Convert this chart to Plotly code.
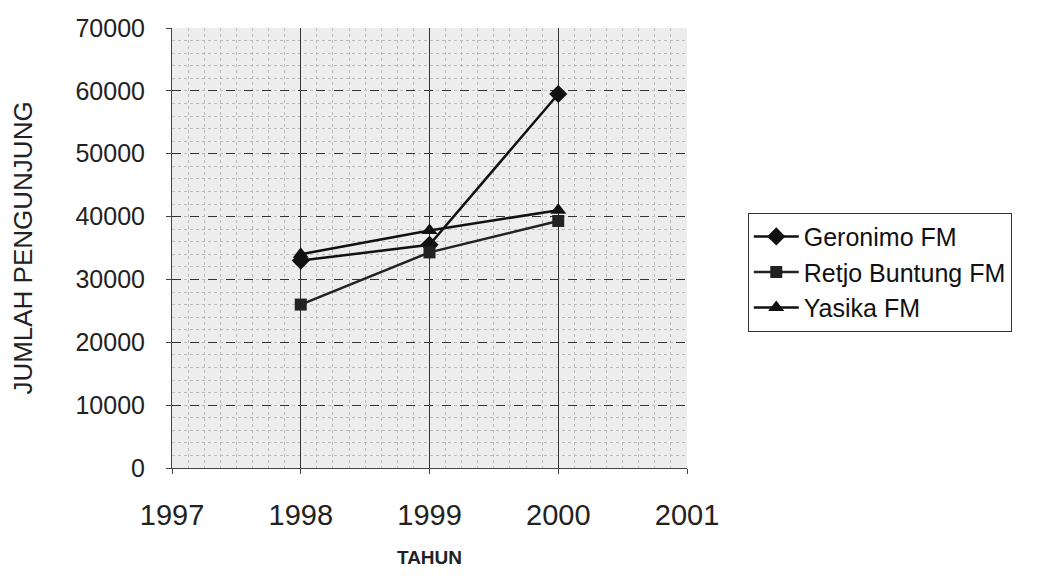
import plotly.graph_objects as go

years = [1998, 1999, 2000]
geronimo = [33000, 35500, 59500]
retjo = [26000, 34300, 39300]
yasika = [34000, 37800, 41000]

x_ticks = [1997, 1998, 1999, 2000, 2001]
y_ticks = [0, 10000, 20000, 30000, 40000, 50000, 60000, 70000]

fig = go.Figure()
fig.add_trace(go.Scatter(x=years, y=geronimo, name="Geronimo FM", mode="lines+markers",
                         line=dict(color="#111111", width=2.5),
                         marker=dict(symbol="diamond", size=14, color="#111111")))
fig.add_trace(go.Scatter(x=years, y=retjo, name="Retjo Buntung FM", mode="lines+markers",
                         line=dict(color="#222222", width=2.5),
                         marker=dict(symbol="square", size=12, color="#222222")))
fig.add_trace(go.Scatter(x=years, y=yasika, name="Yasika FM", mode="lines+markers",
                         line=dict(color="#111111", width=2.5),
                         marker=dict(symbol="triangle-up", size=14, color="#111111")))

font = "Liberation Sans, Arial, sans-serif"
fig.update_layout(
    width=1047, height=573,
    margin=dict(l=164, r=368, t=20, b=113),
    paper_bgcolor="white",
    plot_bgcolor="#ededed",
    font=dict(family=font, size=25, color="#222222"),
    showlegend=True,
    legend=dict(x=1.118, y=0.445, xanchor="left", yanchor="middle",
                bordercolor="#333333", borderwidth=1, bgcolor="white",
                font=dict(size=25, color="#111111"), tracegroupgap=0,
                itemwidth=45),
    xaxis=dict(range=[1997, 2001], tickvals=x_ticks, ticktext=[str(v) for v in x_ticks],
               tickfont=dict(size=29, color="#222222"),
               showgrid=True, gridcolor="#333333", gridwidth=1,
               showline=True, linecolor="#444444", ticks="outside", ticklen=5,
               ticklabelstandoff=16, automargin=False,
               title=dict(text="<b>TAHUN</b>", font=dict(size=19, color="#222222"), standoff=20),
               zeroline=False),
    yaxis=dict(range=[0, 70000], tickvals=y_ticks, ticktext=[str(v) for v in y_ticks],
               tickfont=dict(size=25, color="#222222"),
               showgrid=True, gridcolor="#333333", gridwidth=1, griddash="dash",
               showline=True, linecolor="#444444", ticks="outside", ticklen=5,
               ticklabelstandoff=16, automargin=False,
               title=dict(text="JUMLAH PENGUNJUNG", font=dict(size=26, color="#222222"), standoff=40),
               zeroline=False),
)
fig.update_xaxes(minor=dict(dtick=0.125, showgrid=True, gridcolor="#bbbbbb", griddash="dot"))
fig.update_yaxes(minor=dict(dtick=2000, showgrid=True, gridcolor="#bbbbbb", griddash="dot"))

fig.write_html("out.html")
